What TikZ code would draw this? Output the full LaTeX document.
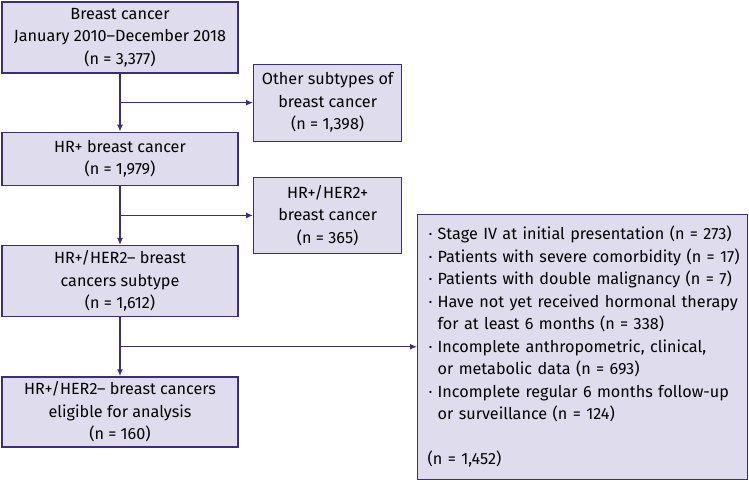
\documentclass[tikz,border=0pt]{standalone}
\usepackage{fontspec}
\setmainfont{Fira Sans}
\usetikzlibrary{arrows.meta, positioning, calc}
\definecolor{mypurple}{RGB}{62,44,128}
\definecolor{hdrpurple}{RGB}{223,221,237}
\tikzset{
  block/.style={rectangle, draw=mypurple, fill=hdrpurple,
    minimum width=236pt, align=center, inner sep=0pt, line width=1.3pt},
  sideblock/.style={rectangle, draw=mypurple, fill=hdrpurple,
    minimum width=148pt, minimum height=77pt, align=center, inner sep=0pt, line width=1.3pt},
  listblock/.style={rectangle, draw=mypurple, fill=hdrpurple,
    minimum width=330pt, minimum height=265pt, text width=322pt, align=left,
    inner xsep=4pt, inner ysep=0pt, line width=1.3pt},
  arrow/.style={-{Latex[length=7pt,width=6pt]}, line width=1.3pt, color=mypurple}
}
\newcommand{\bitem}{\makebox[16pt][l]{\hspace{7pt}·}}
\newcommand{\bcont}{\hspace*{16pt}}

\begin{document}
\begin{tikzpicture}[x=1pt, y=-1pt, font=\fontsize{16.2}{22.5}\selectfont]
  \useasboundingbox (0,0) rectangle (749,479);
  \node[block, minimum height=71pt] (all) at (120,37.5) {Breast cancer\\January 2010--December 2018\\(n = 3,377)};
  \node[block, minimum height=53pt, below=58pt of all] (hrpos) {HR+ breast cancer\\(n = 1,979)};
  \node[block, minimum height=71pt, below=59pt of hrpos] (subtype) {HR+/HER2-- breast\\cancers subtype\\(n = 1,612)};
  \node[block, minimum height=70pt, below=59pt of subtype] (eligible) {HR+/HER2-- breast cancers\\eligible for analysis\\(n = 160)};

  \coordinate (split1) at ($(all.south)!0.5!(hrpos.north)$);
  \coordinate (split2) at ($(hrpos.south)!0.5!(subtype.north)$);
  \coordinate (split3) at ($(subtype.south)!0.5!(eligible.north)$);

  \node[sideblock, right=133pt of split1] (other) {Other subtypes of\\breast cancer\\(n = 1,398)};
  \node[sideblock, minimum height=76pt, right=133pt of split2] (herpos) {HR+/HER2+\\breast cancer\\(n = 365)};
  \node[listblock, right=297pt of split3] (excluded) {\bitem Stage IV at initial presentation (n = 273)\\
    \bitem Patients with severe comorbidity (n = 17)\\
    \bitem Patients with double malignancy (n = 7)\\
    \bitem Have not yet received hormonal therapy\\
    \bcont for at least 6 months (n = 338)\\
    \bitem Incomplete anthropometric, clinical,\\
    \bcont or metabolic data (n = 693)\\
    \bitem Incomplete regular 6 months follow-up\\
    \bcont or surveillance (n = 124)\\[22.5pt]
    \hspace*{6pt}(n = 1,452)};

  \draw[arrow] (all) -- (hrpos);
  \draw[arrow] (hrpos) -- (subtype);
  \draw[arrow] (subtype) -- (eligible);
  \draw[arrow] (split1) -- (other.west);
  \draw[arrow] (split2) -- (herpos.west);
  \draw[arrow] (split3) -- (excluded.west);
\end{tikzpicture}
\end{document}
